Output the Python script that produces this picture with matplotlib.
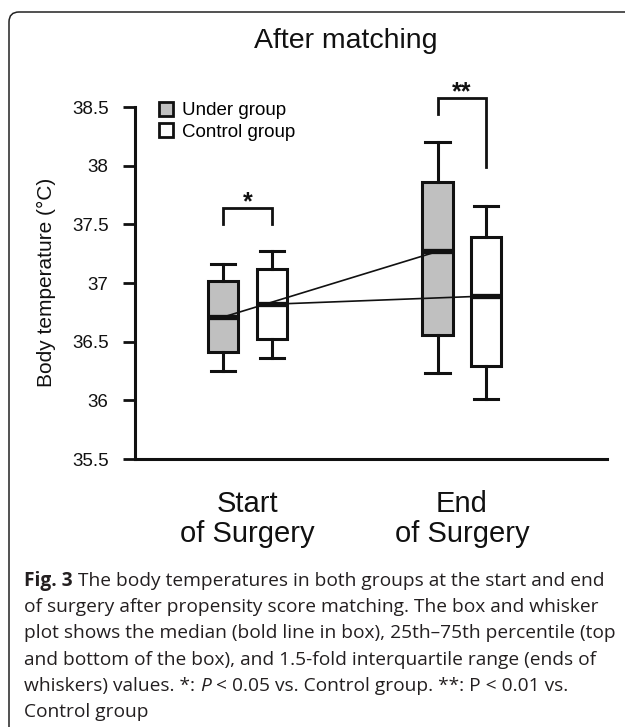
import matplotlib
matplotlib.use('Agg')
import matplotlib.pyplot as plt
from matplotlib.patches import Patch, FancyBboxPatch

plt.rcParams['font.family'] = ['Liberation Sans', 'DejaVu Sans']

# data
times = ['Start\nof Surgery', 'End\nof Surgery']
groups = ['Under group', 'Control group']
# whisker low, 25th pct, median, 75th pct, whisker high (one row per time point)
under = [[36.25, 36.41, 36.71, 37.02, 37.16],
         [36.23, 36.56, 37.27, 37.86, 38.20]]
control = [[36.36, 36.52, 36.82, 37.12, 37.27],
           [36.01, 36.29, 36.89, 37.39, 37.66]]
stars = ['*', '**']
bracket_top = [37.64, 38.58]
bracket_left = [37.50, 38.44]
bracket_right = [37.50, 37.99]
yticks = [35.5, 36, 36.5, 37, 37.5, 38, 38.5]

ink = '#111111'
grey = '#c0c0c0'

fig = plt.figure(figsize=(6.25, 7.27), dpi=100)
ax = fig.add_axes([0.216, 0.3686, 0.7552, 0.5323])

xs = [1, 2]
off = 0.114
w = 0.14


def five(v):
    return dict(whislo=v[0], q1=v[1], med=v[2], q3=v[3], whishi=v[4], fliers=[])


for vals, dx, fc in [(under, -off, grey), (control, off, 'white')]:
    ax.bxp([five(v) for v in vals], positions=[x + dx for x in xs], widths=w,
           patch_artist=True, showfliers=False, manage_ticks=False, capwidths=0.8 * w,
           boxprops=dict(facecolor=fc, edgecolor=ink, linewidth=2.2),
           whiskerprops=dict(color=ink, linewidth=2.2),
           capprops=dict(color=ink, linewidth=2.2),
           medianprops=dict(color=ink, linewidth=3.8, solid_capstyle='butt'))

# lines joining the medians
ax.plot([x - off for x in xs], [v[2] for v in under], color=ink, lw=1.2, zorder=5)
ax.plot([x + off for x in xs], [v[2] for v in control], color=ink, lw=1.2, zorder=5)

# significance brackets
for x, s, top, l, r in zip(xs, stars, bracket_top, bracket_left, bracket_right):
    ax.plot([x - off, x - off, x + off, x + off], [l, top, top, r],
            color=ink, lw=2, clip_on=False, solid_joinstyle='miter')
    ax.text(x, top - 0.01, s, ha='center', va='baseline', fontsize=18,
            fontweight='bold', color=ink, clip_on=False)

ax.set_xlim(0.476, 2.676)
ax.set_ylim(35.5, 38.8)
ax.set_yticks(yticks)
ax.set_yticklabels(['%g' % t for t in yticks])
ax.set_xticks(xs)
ax.set_xticklabels(times, fontsize=21, linespacing=1.1, color=ink)
ax.tick_params(axis='y', direction='out', length=9, width=2, pad=10,
               labelsize=13.5, colors=ink)
ax.tick_params(axis='x', length=0, pad=22)
for side in ['top', 'right']:
    ax.spines[side].set_visible(False)
for side in ['left', 'bottom']:
    ax.spines[side].set_linewidth(2.2)
    ax.spines[side].set_color(ink)
ax.spines['left'].set_bounds(35.5, 38.5)

ax.set_ylabel('Body temperature (°C)', fontsize=15, color=ink)
ax.yaxis.set_label_coords(-0.167, 0.457)

handles = [Patch(facecolor=grey, edgecolor=ink, linewidth=2),
           Patch(facecolor='white', edgecolor=ink, linewidth=2)]
fig.legend(handles, groups, loc='upper left', bbox_to_anchor=(159 / 625, 1 - 102 / 727),
           frameon=False, fontsize=13.5, handlelength=0.75, handleheight=0.75,
           handletextpad=0.5, labelspacing=0.2, borderpad=0, borderaxespad=0)

fig.text(346 / 625, 1 - 41 / 727, 'After matching', fontsize=20.5, ha='center',
         va='center', color=ink)

# rounded frame around the figure panel
frame = FancyBboxPatch((0.09, -0.5), 7.0, 7.65, boxstyle='round,pad=0,rounding_size=0.1',
                       transform=fig.dpi_scale_trans, fill=False, edgecolor='#222222', lw=1.1)
fig.add_artist(frame)

# caption
cap_fs = 13.8
renderer = fig.canvas.get_renderer()
space = 0.26 * cap_fs * 100 / 72
caption = [
    [('Fig. 3', 'bold', 'normal'), ('The body temperatures in both groups at the start and end', 'normal', 'normal')],
    [('of surgery after propensity score matching. The box and whisker', 'normal', 'normal')],
    [('plot shows the median (bold line in box), 25th–75th percentile (top', 'normal', 'normal')],
    [('and bottom of the box), and 1.5-fold interquartile range (ends of', 'normal', 'normal')],
    [('whiskers) values. *:', 'normal', 'normal'), ('P', 'normal', 'italic'),
     ('< 0.05 vs. Control group. **: P < 0.01 vs.', 'normal', 'normal')],
    [('Control group', 'normal', 'normal')],
]
for i, line in enumerate(caption):
    y = 1 - (581 + 26.2 * i) / 727
    x = 24
    for text, wt, st in line:
        t = fig.text(x / 625, y, text, fontsize=cap_fs, family='Open Sans', fontweight=wt,
                     fontstyle=st, color='#231f20', va='center')
        x += t.get_window_extent(renderer).width + space

fig.savefig('out.png', dpi=100)
